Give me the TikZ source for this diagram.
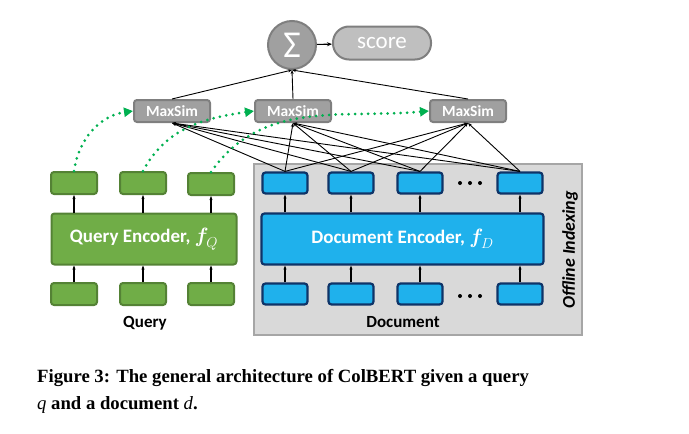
\documentclass[tikz,border=0pt]{standalone}
\usepackage{amsmath}
\usepackage{fontspec}
\setmainfont{Carlito}
\newfontfamily\capfont{Liberation Serif}
\usetikzlibrary{arrows.meta}
\definecolor{qfill}{HTML}{70AD47}
\definecolor{qdraw}{HTML}{548235}
\definecolor{dfill}{HTML}{1FB1EC}
\definecolor{ddraw}{HTML}{0F3468}
\definecolor{bgfill}{HTML}{D9D9D9}
\definecolor{bgdraw}{HTML}{A6A6A6}
\definecolor{msfill}{HTML}{A0A0A0}
\definecolor{msdraw}{HTML}{7F7F7F}
\definecolor{scfill}{HTML}{BFBFBF}
\definecolor{dotgreen}{HTML}{00B050}
\tikzset{
  qtok/.style={draw=qdraw,fill=qfill,line width=2pt,rounded corners=3pt,minimum width=46pt,minimum height=22pt,inner sep=0pt},
  dtok/.style={draw=ddraw,fill=dfill,line width=2.2pt,rounded corners=3pt,minimum width=45pt,minimum height=21pt,inner sep=0pt},
  enc/.style={line width=2pt,rounded corners=3pt,inner sep=0pt,text=white,font=\fontsize{19}{20}\selectfont\bfseries},
  msbox/.style={draw=msdraw,fill=msfill,line width=2pt,rounded corners=3pt,minimum width=76pt,minimum height=22pt,inner sep=0pt,text=white,font=\fontsize{15.5}{16}\selectfont\bfseries},
  up/.style={-{Stealth[length=4pt,width=3pt]},line width=1.1pt},
  link/.style={{Stealth[length=4pt,width=3pt]}-,line width=0.9pt},
  dotted green/.style={dotgreen,line width=3pt,line cap=round,dash pattern=on 0pt off 6.5pt,-{Triangle[length=9pt,width=9pt]}},
  blackdot/.style={circle,fill=black,minimum size=4pt,inner sep=0pt},
}
\begin{document}
\begin{tikzpicture}[x=1pt,y=-1pt]
\useasboundingbox (0,0) rectangle (689,434);
% background
\node[draw=bgdraw,fill=bgfill,line width=1.3pt,minimum width=328pt,minimum height=171pt,inner sep=0pt] (bg) at (418,249.5) {};
% sigma and score
\node[circle,draw=msdraw,fill=msfill,line width=2pt,minimum size=48pt,inner sep=0pt,text=white,font=\fontsize{38}{38}\selectfont] (sig) at (292,45) {Σ};
\node[draw=msdraw,fill=scfill,line width=2pt,rounded corners=16pt,minimum width=98pt,minimum height=33pt,inner sep=0pt,text=white,font=\fontsize{23}{24}\selectfont] (score) at (382,43) {score};
\draw[-{Stealth[length=5pt,width=4pt]},line width=1.1pt] (sig) -- (score);
% maxsim
\node[msbox] (ms1) at (172,111) {MaxSim};
\node[msbox] (ms2) at (293,111) {MaxSim};
\node[msbox] (ms3) at (468,111) {MaxSim};
\foreach \m in {ms1,ms2,ms3}{\draw[-{Stealth[length=4pt,width=3pt]},line width=0.9pt] (\m.north) -- (sig.south);}
% query side
\node[qtok] (qt1) at (74,183) {};
\node[qtok] (qt2) at (143,183) {};
\node[qtok] (qt3) at (211,184) {};
\node[enc,draw=qdraw,fill=qfill,minimum width=185pt,minimum height=51pt] (qenc) at (144,239) {Query Encoder, \normalfont\fontsize{21}{20}\selectfont$\boldsymbol{f}_{\!Q}$};
\node[qtok] (qb1) at (74,294) {};
\node[qtok] (qb2) at (143,294) {};
\node[qtok] (qb3) at (211,294) {};
\foreach \i in {1,2,3}{
  \draw[up] (qb\i.north) -- (qb\i.north |- qenc.south);
  \draw[up] (qt\i.south |- qenc.north) -- (qt\i.south);
}
\node[font=\fontsize{17}{18}\selectfont\bfseries] (qlab) at (145,323) {Query};
% document side
\node[dtok] (dt1) at (285,183) {};
\node[dtok] (dt2) at (351,183) {};
\node[dtok] (dt3) at (420,183) {};
\node[dtok] (dt4) at (520,183) {};
\node[enc,draw=ddraw,fill=dfill,line width=2.2pt,minimum width=282pt,minimum height=51pt] (denc) at (402.5,239) {Document Encoder, \normalfont\fontsize{21}{20}\selectfont$\boldsymbol{f}_{\!D}$};
\node[dtok] (db1) at (285,294) {};
\node[dtok] (db2) at (351,294) {};
\node[dtok] (db3) at (420,294) {};
\node[dtok] (db4) at (520,294) {};
\foreach \x in {460,470,480}{
  \node[blackdot] (ta\x) at (\x,183) {};
  \node[blackdot] (tb\x) at (\x,296) {};
}
\foreach \i in {1,2,3,4}{
  \draw[up] (db\i.north) -- (db\i.north |- denc.south);
  \draw[up] (dt\i.south |- denc.north) -- (dt\i.south);
}
\foreach \m in {ms1,ms2,ms3}{\foreach \i in {1,2,3,4}{\draw[link] (\m.south) -- (dt\i.north);}}
\node[font=\fontsize{17}{18}\selectfont\bfseries] (dlab) at (403,322) {Document};
\node[rotate=90,font=\fontsize{18}{18}\selectfont\bfseries\itshape] (off) at (570,250) {Offline Indexing};
% dotted links
\draw[dotted green] (qt1.north) to[out=82,in=188] (ms1.west);
\draw[dotted green] (qt2.north) to[out=62,in=188] (ms2.west);
\draw[dotted green] (qt3.north) to[out=55,in=185] (ms3.west);
% caption
\node[anchor=west,inner sep=0pt,font=\capfont\bfseries\fontsize{18.7}{20}\selectfont] (cap1) at (37,378) {Figure 3: The general architecture of ColBERT given a query};
\node[anchor=west,inner sep=0pt,font=\capfont\bfseries\fontsize{18.7}{20}\selectfont] (cap2) at (37,405) {\textmd{\textit{q}} and a document \textmd{\textit{d}}.};
\end{tikzpicture}
\end{document}
